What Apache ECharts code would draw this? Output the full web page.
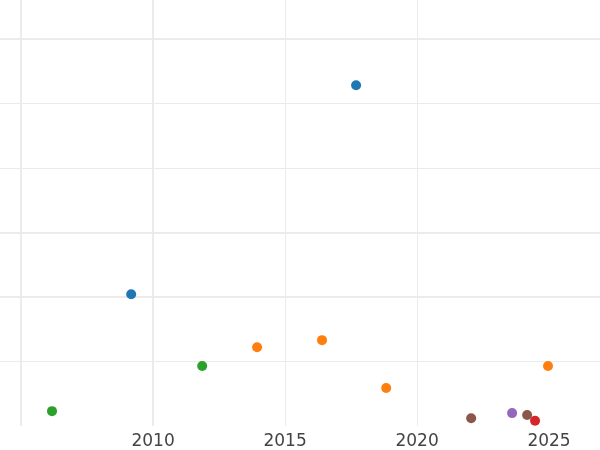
<!DOCTYPE html>
<html><head><meta charset="utf-8">
<script src="https://cdn.jsdelivr.net/npm/echarts@6/dist/echarts.min.js"></script>
<style>html,body{margin:0;padding:0;background:#fff}#c{width:600px;height:450px}</style>
</head><body><div id="c"></div>
<script>
const blueX = [2017.69, 2009.17];
const blueY = [5.28, 2.04];
const orangeX = [2013.94, 2016.40, 2018.83, 2024.96];
const orangeY = [1.22, 1.33, 0.59, 0.93];
const greenX = [2006.17, 2011.86];
const greenY = [0.23, 0.93];
const redX = [2024.47];
const redY = [0.08];
const purpleX = [2023.60];
const purpleY = [0.20];
const brownX = [2022.05, 2024.17];
const brownY = [0.12, 0.17];
const xTicks = [2005, 2010, 2015, 2020, 2025];
const xLabels = [2010, 2015, 2020, 2025];
const majorX = [2005, 2010];
const majorY = [6, 3, 2];

const colors = ['#1f77b4','#ff7f0e','#2ca02c','#d62728','#9467bd','#8c564b'];
const groups = [[blueX,blueY],[orangeX,orangeY],[greenX,greenY],[redX,redY],[purpleX,purpleY],[brownX,brownY]];
const series = groups.map((g,i)=>({
  type:'scatter', symbolSize:10, z:5, itemStyle:{color:colors[i], opacity:1},
  data: g[0].map((x,j)=>[x,g[1][j]])
}));
series.push({
  type:'line', data:[], symbol:'none', silent:true, z:0,
  markLine:{silent:true, symbol:'none', label:{show:false}, z:0,
    lineStyle:{color:'#ebebeb', width:2, type:'solid'},
    data: majorX.map(v=>({xAxis:v})).concat(majorY.map(v=>({yAxis:v})))}
});
const chart = echarts.init(document.getElementById('c'));
chart.setOption({
  animation:false,
  grid:{left:0,right:0,top:0,bottom:24,containLabel:false},
  xAxis:{type:'value', min:2004.2, max:2026.93,
    axisLine:{show:false}, axisTick:{show:false, customValues:xTicks},
    axisLabel:{customValues:xLabels, color:'#444', fontSize:17, fontFamily:'DejaVu Sans', margin:7,
      formatter:v=>String(v)},
    splitLine:{show:true, showMinLine:false, showMaxLine:false, lineStyle:{color:'#ebebeb', width:1}}},
  yAxis:{type:'value', min:0, max:6.6, interval:1,
    axisLine:{show:false}, axisTick:{show:false}, axisLabel:{show:false},
    splitLine:{show:true, showMinLine:false, showMaxLine:false, lineStyle:{color:'#ebebeb', width:1}}},
  series: series
});
</script></body></html>
